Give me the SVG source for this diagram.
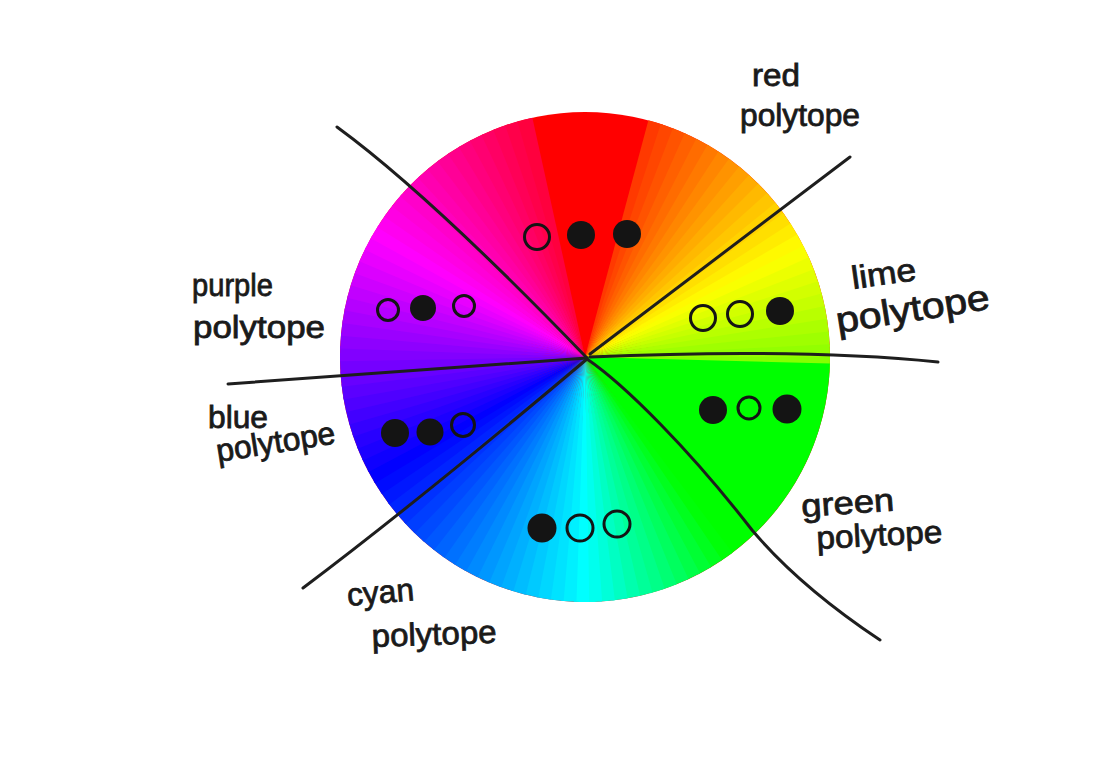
<svg xmlns="http://www.w3.org/2000/svg" xmlns:xlink="http://www.w3.org/1999/xlink" width="1120" height="768" viewBox="0 0 1120 768">
<style>
.lbl{font-family:"Liberation Sans","DejaVu Sans",sans-serif;font-size:32px;fill:#1a1a1a;stroke:#1a1a1a;stroke-width:0.8px}
.dot{fill:#141414}
.ring{fill:none;stroke:#141414;stroke-width:3}
.div{fill:none;stroke:#1e1e1e;stroke-width:3;stroke-linecap:round}
</style>
<defs>
<path id="w" d="M0,0 L0,-245 A245,245 0 0,1 15.38,-244.52 Z"/>
</defs>
<rect width="1120" height="768" fill="#ffffff"/>
<g id="wheel" transform="translate(585,357)">
<circle r="245" fill="hsl(0,100%,50%)"/>
<use href="#w" transform="rotate(15)" fill="hsl(13.5,100%,50%)"/>
<use href="#w" transform="rotate(18)" fill="hsl(16.5,100%,50%)"/>
<use href="#w" transform="rotate(21)" fill="hsl(19.5,100%,50%)"/>
<use href="#w" transform="rotate(24)" fill="hsl(22.5,100%,50%)"/>
<use href="#w" transform="rotate(27)" fill="hsl(25.5,100%,50%)"/>
<use href="#w" transform="rotate(30)" fill="hsl(28.5,100%,50%)"/>
<use href="#w" transform="rotate(33)" fill="hsl(31.5,100%,50%)"/>
<use href="#w" transform="rotate(36)" fill="hsl(34.5,100%,50%)"/>
<use href="#w" transform="rotate(39)" fill="hsl(37.5,100%,50%)"/>
<use href="#w" transform="rotate(42)" fill="hsl(40.5,100%,50%)"/>
<use href="#w" transform="rotate(45)" fill="hsl(43.5,100%,50%)"/>
<use href="#w" transform="rotate(48)" fill="hsl(46.5,100%,50%)"/>
<use href="#w" transform="rotate(51)" fill="hsl(49.5,100%,50%)"/>
<use href="#w" transform="rotate(54)" fill="hsl(52.5,100%,50%)"/>
<use href="#w" transform="rotate(57)" fill="hsl(55.5,100%,50%)"/>
<use href="#w" transform="rotate(60)" fill="hsl(58.5,100%,50%)"/>
<use href="#w" transform="rotate(63)" fill="hsl(61.5,100%,50%)"/>
<use href="#w" transform="rotate(66)" fill="hsl(64.5,100%,50%)"/>
<use href="#w" transform="rotate(69)" fill="hsl(67.5,100%,50%)"/>
<use href="#w" transform="rotate(72)" fill="hsl(70.5,100%,50%)"/>
<use href="#w" transform="rotate(75)" fill="hsl(73.5,100%,50%)"/>
<use href="#w" transform="rotate(78)" fill="hsl(76.5,100%,50%)"/>
<use href="#w" transform="rotate(81)" fill="hsl(79.5,100%,50%)"/>
<use href="#w" transform="rotate(84)" fill="hsl(82.5,100%,50%)"/>
<use href="#w" transform="rotate(87)" fill="hsl(85.5,100%,50%)"/>
<use href="#w" transform="rotate(90)" fill="hsl(88.5,100%,50%)"/>
<path d="M0,0 L244.92,6.41 A245,245 0 0,1 145.39,197.2 Z" fill="hsl(120,100%,50%)"/>
<use href="#w" transform="rotate(143)" fill="hsl(122,100%,50%)"/>
<use href="#w" transform="rotate(146)" fill="hsl(127,100%,50%)"/>
<use href="#w" transform="rotate(149)" fill="hsl(132,100%,50%)"/>
<use href="#w" transform="rotate(152)" fill="hsl(137,100%,50%)"/>
<use href="#w" transform="rotate(155)" fill="hsl(142,100%,50%)"/>
<use href="#w" transform="rotate(158)" fill="hsl(147,100%,50%)"/>
<use href="#w" transform="rotate(161)" fill="hsl(152,100%,50%)"/>
<use href="#w" transform="rotate(164)" fill="hsl(156,100%,50%)"/>
<use href="#w" transform="rotate(167)" fill="hsl(161,100%,50%)"/>
<use href="#w" transform="rotate(170)" fill="hsl(166,100%,50%)"/>
<use href="#w" transform="rotate(173)" fill="hsl(171,100%,50%)"/>
<use href="#w" transform="rotate(176)" fill="hsl(176,100%,50%)"/>
<use href="#w" transform="rotate(179)" fill="hsl(180,100%,50%)"/>
<use href="#w" transform="rotate(182)" fill="hsl(183.5,100%,50%)"/>
<use href="#w" transform="rotate(185)" fill="hsl(186.5,100%,50%)"/>
<use href="#w" transform="rotate(188)" fill="hsl(189.5,100%,50%)"/>
<use href="#w" transform="rotate(191)" fill="hsl(192.5,100%,50%)"/>
<use href="#w" transform="rotate(194)" fill="hsl(195.5,100%,50%)"/>
<use href="#w" transform="rotate(197)" fill="hsl(198.5,100%,50%)"/>
<use href="#w" transform="rotate(200)" fill="hsl(201.5,100%,50%)"/>
<use href="#w" transform="rotate(203)" fill="hsl(204.5,100%,50%)"/>
<use href="#w" transform="rotate(206)" fill="hsl(207.5,100%,50%)"/>
<use href="#w" transform="rotate(209)" fill="hsl(210.5,100%,50%)"/>
<use href="#w" transform="rotate(212)" fill="hsl(213.5,100%,50%)"/>
<use href="#w" transform="rotate(215)" fill="hsl(216.5,100%,50%)"/>
<use href="#w" transform="rotate(218)" fill="hsl(219.5,100%,50%)"/>
<use href="#w" transform="rotate(221)" fill="hsl(222.5,100%,50%)"/>
<use href="#w" transform="rotate(224)" fill="hsl(225.5,100%,50%)"/>
<use href="#w" transform="rotate(227)" fill="hsl(228.5,100%,50%)"/>
<use href="#w" transform="rotate(230)" fill="hsl(231.5,100%,50%)"/>
<use href="#w" transform="rotate(233)" fill="hsl(234.5,100%,50%)"/>
<use href="#w" transform="rotate(236)" fill="hsl(237.5,100%,50%)"/>
<use href="#w" transform="rotate(239)" fill="hsl(240.5,100%,50%)"/>
<use href="#w" transform="rotate(242)" fill="hsl(243.5,100%,50%)"/>
<use href="#w" transform="rotate(245)" fill="hsl(246.5,100%,50%)"/>
<use href="#w" transform="rotate(248)" fill="hsl(249.5,100%,50%)"/>
<use href="#w" transform="rotate(251)" fill="hsl(252.5,100%,50%)"/>
<use href="#w" transform="rotate(254)" fill="hsl(255.5,100%,50%)"/>
<use href="#w" transform="rotate(257)" fill="hsl(258.5,100%,50%)"/>
<use href="#w" transform="rotate(260)" fill="hsl(261.5,100%,50%)"/>
<use href="#w" transform="rotate(263)" fill="hsl(264.5,100%,50%)"/>
<use href="#w" transform="rotate(266)" fill="hsl(267.5,100%,50%)"/>
<use href="#w" transform="rotate(269)" fill="hsl(270.5,100%,50%)"/>
<use href="#w" transform="rotate(272)" fill="hsl(273.5,100%,50%)"/>
<use href="#w" transform="rotate(275)" fill="hsl(276.5,100%,50%)"/>
<use href="#w" transform="rotate(278)" fill="hsl(279.5,100%,50%)"/>
<use href="#w" transform="rotate(281)" fill="hsl(282.5,100%,50%)"/>
<use href="#w" transform="rotate(284)" fill="hsl(285.5,100%,50%)"/>
<use href="#w" transform="rotate(287)" fill="hsl(288.5,100%,50%)"/>
<use href="#w" transform="rotate(290)" fill="hsl(291.5,100%,50%)"/>
<use href="#w" transform="rotate(293)" fill="hsl(294.5,100%,50%)"/>
<use href="#w" transform="rotate(296)" fill="hsl(297.5,100%,50%)"/>
<use href="#w" transform="rotate(299)" fill="hsl(300.5,100%,50%)"/>
<use href="#w" transform="rotate(302)" fill="hsl(303.5,100%,50%)"/>
<use href="#w" transform="rotate(305)" fill="hsl(306.5,100%,50%)"/>
<use href="#w" transform="rotate(308)" fill="hsl(309.5,100%,50%)"/>
<use href="#w" transform="rotate(311)" fill="hsl(312.5,100%,50%)"/>
<use href="#w" transform="rotate(314)" fill="hsl(315.5,100%,50%)"/>
<use href="#w" transform="rotate(317)" fill="hsl(318.5,100%,50%)"/>
<use href="#w" transform="rotate(320)" fill="hsl(321.5,100%,50%)"/>
<use href="#w" transform="rotate(323)" fill="hsl(324.5,100%,50%)"/>
<use href="#w" transform="rotate(326)" fill="hsl(327.5,100%,50%)"/>
<use href="#w" transform="rotate(329)" fill="hsl(330.5,100%,50%)"/>
<use href="#w" transform="rotate(332)" fill="hsl(333.5,100%,50%)"/>
<use href="#w" transform="rotate(335)" fill="hsl(336.5,100%,50%)"/>
<use href="#w" transform="rotate(338)" fill="hsl(339.5,100%,50%)"/>
<use href="#w" transform="rotate(341)" fill="hsl(342.5,100%,50%)"/>
<use href="#w" transform="rotate(344)" fill="hsl(345.5,100%,50%)"/>
</g>
<g id="connectors">
<path class="div" d="M337,127 Q430,195 587,358"/>
<path class="div" d="M590,354 L850,157"/>
<path class="div" d="M590,357 Q800,348 938,362"/>
<path class="div" d="M228,384 L587,358"/>
<path class="div" d="M587,359 Q420,500 303,588"/>
<path class="div" d="M587,359 C625,385 690,450 752,530 C790,575 835,610 880,640"/>
</g>
<g id="red-polytope">
<circle class="ring" cx="537" cy="237" r="12.5"/>
<circle class="dot" cx="581" cy="235" r="14"/>
<circle class="dot" cx="627" cy="234" r="14"/>
<text class="lbl" x="752" y="86" textLength="48" lengthAdjust="spacingAndGlyphs">red</text>
<text class="lbl" x="740" y="126" textLength="120" lengthAdjust="spacingAndGlyphs">polytope</text>
</g>
<g id="purple-polytope">
<circle class="ring" cx="388" cy="310" r="10.5"/>
<circle class="dot" cx="423" cy="308" r="13"/>
<circle class="ring" cx="464" cy="306" r="10.5"/>
<text class="lbl" x="192" y="296" textLength="81" lengthAdjust="spacingAndGlyphs">purple</text>
<text class="lbl" x="193" y="338" textLength="132" lengthAdjust="spacingAndGlyphs">polytope</text>
</g>
<g id="lime-polytope">
<circle class="ring" cx="703" cy="318" r="12.5"/>
<circle class="ring" cx="740" cy="314" r="12.5"/>
<circle class="dot" cx="780" cy="311" r="14"/>
<text class="lbl" x="853" y="289" textLength="65" lengthAdjust="spacingAndGlyphs" transform="rotate(-8 853 289)">lime</text>
<text class="lbl" x="838" y="333" textLength="155" lengthAdjust="spacingAndGlyphs" style="font-size:36px" transform="rotate(-9 838 333)">polytope</text>
</g>
<g id="green-polytope">
<circle class="dot" cx="713" cy="410" r="14"/>
<circle class="ring" cx="749" cy="408" r="11"/>
<circle class="dot" cx="787" cy="409" r="14.5"/>
<text class="lbl" x="802" y="517" textLength="93" lengthAdjust="spacingAndGlyphs" transform="rotate(-4 802 517)">green</text>
<text class="lbl" x="817" y="549" textLength="126" lengthAdjust="spacingAndGlyphs" transform="rotate(-3 817 549)">polytope</text>
</g>
<g id="cyan-polytope">
<circle class="dot" cx="542" cy="528" r="14.5"/>
<circle class="ring" cx="580" cy="528" r="13"/>
<circle class="ring" cx="617" cy="524" r="13"/>
<text class="lbl" x="348" y="606" textLength="67" lengthAdjust="spacingAndGlyphs" transform="rotate(-5 348 606)">cyan</text>
<text class="lbl" x="372" y="647" textLength="125" lengthAdjust="spacingAndGlyphs" transform="rotate(-2 372 647)">polytope</text>
</g>
<g id="blue-polytope">
<circle class="dot" cx="395" cy="433" r="14"/>
<circle class="dot" cx="430" cy="432" r="13.5"/>
<circle class="ring" cx="463" cy="425" r="11.5"/>
<text class="lbl" x="208" y="428" textLength="60" lengthAdjust="spacingAndGlyphs">blue</text>
<text class="lbl" x="218" y="462" textLength="120" lengthAdjust="spacingAndGlyphs" transform="rotate(-9 218 462)">polytope</text>
</g>
</svg>
